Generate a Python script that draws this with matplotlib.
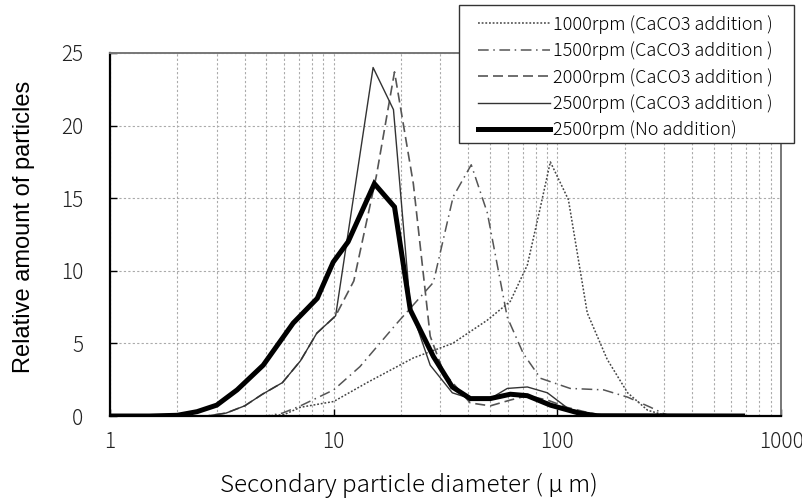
import matplotlib
matplotlib.use("Agg")
import matplotlib.pyplot as plt
from matplotlib.patches import Rectangle
from matplotlib.ticker import FixedLocator, LogLocator, NullFormatter

# particle size distributions (diameter in um, relative amount)
d_1000 = [1.0, 5.0, 6.0, 7.1, 10.0, 14.1, 22.7, 34.0, 48.6, 61.6, 73.4, 84.0, 93.0,
          112, 136, 167, 206, 253, 295, 320]
v_1000 = [0, 0, 0.1, 0.6, 1.0, 2.3, 4.0, 5.0, 6.6, 7.9, 10.4, 14.4, 17.5,
          14.9, 7.1, 3.9, 1.6, 0.4, 0.1, 0]

d_1500 = [1.0, 5.0, 5.9, 7.1, 10.0, 13.1, 19.2, 27.9, 34.2, 41.2, 48.6, 59.7, 70.4,
          84.0, 114, 161, 206, 261, 295, 320]
v_1500 = [0, 0, 0.2, 0.7, 1.8, 3.4, 6.4, 9.2, 15.1, 17.3, 14.0, 6.8, 4.3,
          2.6, 1.9, 1.8, 1.3, 0.6, 0.2, 0]

d_2000 = [1.0, 2.7, 3.3, 4.0, 4.8, 5.9, 7.1, 8.4, 10.2, 12.3, 15.5, 18.7, 22.7,
          27.0, 31.0, 40.8, 50.1, 61.6, 73.4, 90.2, 110, 140, 170]
v_2000 = [0, 0, 0.2, 0.7, 1.5, 2.3, 3.8, 5.7, 6.9, 9.3, 16.5, 23.7, 16.0,
          5.5, 3.0, 0.9, 0.7, 1.1, 1.4, 1.1, 0.6, 0.2, 0]

d_2500 = [1.0, 2.7, 3.3, 4.0, 4.8, 5.9, 7.1, 8.4, 10.2, 15.0, 18.5, 22.0, 27.0,
          33.9, 40.8, 50.1, 59.7, 73.4, 81.4, 90.2, 112, 136, 160]
v_2500 = [0, 0, 0.2, 0.7, 1.5, 2.3, 3.8, 5.7, 6.9, 24.0, 21.1, 7.5, 3.5,
          1.6, 1.2, 1.2, 1.9, 2.0, 1.8, 1.6, 0.5, 0.2, 0]

d_none = [1.0, 1.5, 2.0, 2.45, 3.0, 3.7, 4.84, 6.59, 8.44, 9.95, 11.6, 15.2, 18.7,
          22.0, 27.9, 33.9, 40.8, 50.1, 61.6, 73.4, 93.0, 125, 150, 673]
v_none = [0, 0, 0.05, 0.3, 0.75, 1.8, 3.5, 6.4, 8.1, 10.6, 12.0, 16.0, 14.4,
          7.3, 4.1, 2.0, 1.2, 1.2, 1.5, 1.4, 0.75, 0.2, 0.02, 0]

labels = ["1000rpm (CaCO3 addition )", "1500rpm (CaCO3 addition )",
          "2000rpm (CaCO3 addition )", "2500rpm (CaCO3 addition )",
          "2500rpm (No addition)"]

thin_font = "Noto Sans CJK JP"
W, H = 803, 499

fig = plt.figure(figsize=(W / 100, H / 100), dpi=100)
ax = fig.add_axes([0.137, 0.1663, 0.8357, 0.7275])

ax.plot(d_1000, v_1000, color="#444444", lw=1.1, ls=(0, (1.2, 1.2)), label=labels[0])
ax.plot(d_1500, v_1500, color="#555555", lw=1.1, ls=(0, (7, 3, 1, 3)), label=labels[1])
ax.plot(d_2000, v_2000, color="#555555", lw=1.2, ls=(0, (6, 3)), label=labels[2])
ax.plot(d_2500, v_2500, color="#333333", lw=1.0, label=labels[3])
ax.plot(d_none, v_none, color="black", lw=3.6, solid_joinstyle="miter", label=labels[4])

ax.set_xscale("log")
ax.set_xlim(1, 1000)
ax.set_ylim(0, 25)
ax.set_yticks([0, 5, 10, 15, 20, 25])
ax.xaxis.set_major_locator(FixedLocator([1, 10, 100, 1000]))
ax.xaxis.set_minor_locator(LogLocator(base=10, subs=range(2, 10)))
ax.xaxis.set_minor_formatter(NullFormatter())
ax.set_xticklabels(["1", "10", "100", "1000"])

grid_kw = dict(color="#aaaaaa", lw=0.8, ls=(0, (2, 2)))
ax.grid(True, which="major", axis="y", **grid_kw)
ax.grid(True, which="both", axis="x", **grid_kw)
ax.tick_params(which="major", direction="in", length=5, width=1, colors="black",
               labelsize=15)
ax.tick_params(axis="y", pad=19)
ax.tick_params(axis="x", pad=11)
ax.tick_params(which="minor", length=0)
for lab in ax.get_xticklabels() + ax.get_yticklabels():
    lab.set_fontfamily(thin_font)
    lab.set_fontweight("light")
    lab.set_color("#222222")

for side in ["left", "bottom"]:
    ax.spines[side].set_color("black")
    ax.spines[side].set_linewidth(1.6)
for side in ["top", "right"]:
    ax.spines[side].set_color("#777777")
    ax.spines[side].set_linewidth(1.4)

ax.set_ylabel("Relative amount of particles", fontsize=17, family="Liberation Sans")
ax.yaxis.set_label_coords(-0.112, 0.522)
ax.set_xlabel("Secondary particle diameter ( \u03bc m)", fontsize=17.5,
              family=thin_font, fontweight="light")
ax.xaxis.set_label_coords(0.4456, -0.155)

# legend box sits over the top right corner and past the plot edge
box = Rectangle((459 / W, 1 - 143 / H), 335 / W, 138 / H, transform=fig.transFigure,
                facecolor="white", edgecolor="#333333", lw=1.0, zorder=3)
fig.patches.append(box)
fig.legend(loc="upper left", bbox_to_anchor=(478 / W, 1 - 15 / H),
           bbox_transform=fig.transFigure, borderaxespad=0, borderpad=0,
           frameon=False, handlelength=4.0, handletextpad=0.15, labelspacing=0.42,
           prop={"family": thin_font, "size": 13, "weight": "light"})

fig.savefig("out.png", dpi=100)
